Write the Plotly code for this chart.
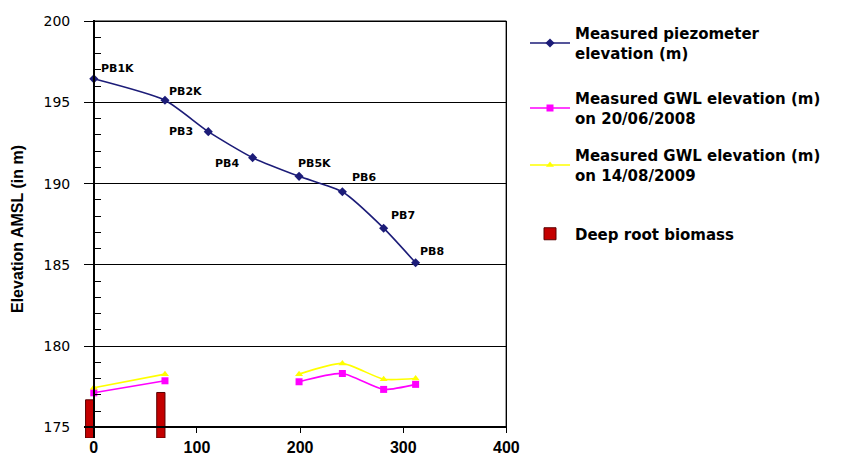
import plotly.graph_objects as go

# ---- data ----
piezo_names = ["PB1K", "PB2K", "PB3", "PB4", "PB5K", "PB6", "PB7", "PB8"]
piezo_dist = [0, 69, 111, 154, 199, 241, 281, 312]
piezo_elev = [196.45, 195.13, 193.2, 191.6, 190.45, 189.5, 187.26, 185.13]

gwl_2008 = [177.13, 177.87, None, None, 177.81, 178.32, 177.34, 177.65]
gwl_2009 = [177.44, 178.28, None, None, 178.28, 178.94, 177.97, 178.01]

root_dist = [0, 69]
root_top_elev = [176.7, 177.15]
root_base = 174.35

x_ticks = [0, 100, 200, 300, 400]
y_ticks = [175, 180, 185, 190, 195, 200]

# label offsets in pixels (style only)
label_dx = [24, 21, -27, -26, 15, 22, 19, 16]
label_dy = [10, 9, 0, -6, 13, 14, 13, 11]

legend_font = dict(family="DejaVu Sans", size=15, color="black", weight="bold")
legend_centers_px = [43, 108, 165, 234]

fig = go.Figure()

fig.add_trace(go.Scatter(
    x=piezo_dist, y=piezo_elev, mode="lines+markers",
    line=dict(color="#1c1c78", width=1.6, shape="spline", smoothing=0.6),
    marker=dict(symbol="diamond", size=7, color="#1c1c78"),
    name="Measured piezometer<br>elevation (m)", legend="legend",
))
fig.add_trace(go.Scatter(
    x=piezo_dist, y=gwl_2008, mode="lines+markers",
    line=dict(color="#ff00ff", width=1.6, shape="spline", smoothing=0.6),
    marker=dict(symbol="square", size=7, color="#ff00ff"),
    name="Measured GWL elevation (m)<br>on 20/06/2008", legend="legend2",
    connectgaps=False,
))
fig.add_trace(go.Scatter(
    x=piezo_dist, y=gwl_2009, mode="lines+markers",
    line=dict(color="#ffff00", width=1.6, shape="spline", smoothing=0.6),
    marker=dict(symbol="triangle-up", size=7, color="#ffff00"),
    name="Measured GWL elevation (m)<br>on 14/08/2009", legend="legend3",
    connectgaps=False,
))
fig.add_trace(go.Bar(
    x=root_dist, y=[t - root_base for t in root_top_elev], base=root_base,
    width=8, offset=-8,
    marker=dict(color="#c40000", line=dict(color="#5a0000", width=1)),
    name="Deep root biomass", legend="legend4",
))

for name, xv, yv, dx, dy in zip(piezo_names, piezo_dist, piezo_elev, label_dx, label_dy):
    fig.add_annotation(x=xv, y=yv, text=name, showarrow=False,
                       xshift=dx, yshift=dy,
                       font=dict(family="DejaVu Sans", size=11, color="black", weight="bold"))

x_range = [-9.5, 400.6]
y_range = [root_base, 200.07]

fig.add_shape(type="line", x0=0, x1=400, y0=200, y1=200,
              line=dict(color="black", width=1.5))
fig.add_shape(type="line", x0=400, x1=400, y0=175, y1=200,
              line=dict(color="black", width=1.5))

H = 459
legends = {}
for i, cy in enumerate(legend_centers_px):
    key = "legend" if i == 0 else f"legend{i + 1}"
    legends[key] = dict(
        xref="container", yref="container", x=525 / 853, y=1 - cy / H,
        xanchor="left", yanchor="middle",
        font=legend_font, itemwidth=40, bgcolor="rgba(0,0,0,0)",
    )

fig.update_layout(
    width=853, height=H,
    margin=dict(l=84, r=346, t=20, b=21),
    paper_bgcolor="white", plot_bgcolor="white",
    showlegend=True,
    **legends,
    xaxis=dict(
        range=x_range, anchor="free", automargin=False,
        position=(175 - y_range[0]) / (y_range[1] - y_range[0]),
        tickvals=x_ticks, ticks="outside", ticklen=5, tickcolor="black",
        ticklabelstandoff=1,
        showline=True, linecolor="black", linewidth=1.5,
        showgrid=False, zeroline=False,
        tickfont=dict(family="Liberation Sans", size=16, color="black", weight="bold"),
    ),
    yaxis=dict(
        range=y_range, anchor="free", automargin=False,
        position=(0 - x_range[0]) / (x_range[1] - x_range[0]),
        tickvals=y_ticks, ticks="outside", ticklen=8, tickcolor="black",
        ticklabelstandoff=12,
        showline=True, linecolor="black", linewidth=1.5,
        showgrid=True, gridcolor="black", gridwidth=1, zeroline=False,
        minor=dict(ticks="inside", dtick=1, ticklen=6, tickcolor="black", showgrid=False),
        tickfont=dict(family="DejaVu Sans", size=14, color="black"),
        title=dict(text="<b>Elevation AMSL (in m)</b>", standoff=15,
                   font=dict(family="Liberation Sans", size=16, color="black")),
    ),
)

fig.write_html("out.html", config={"displayModeBar": False},
               post_script="document.body.style.margin='0';")
